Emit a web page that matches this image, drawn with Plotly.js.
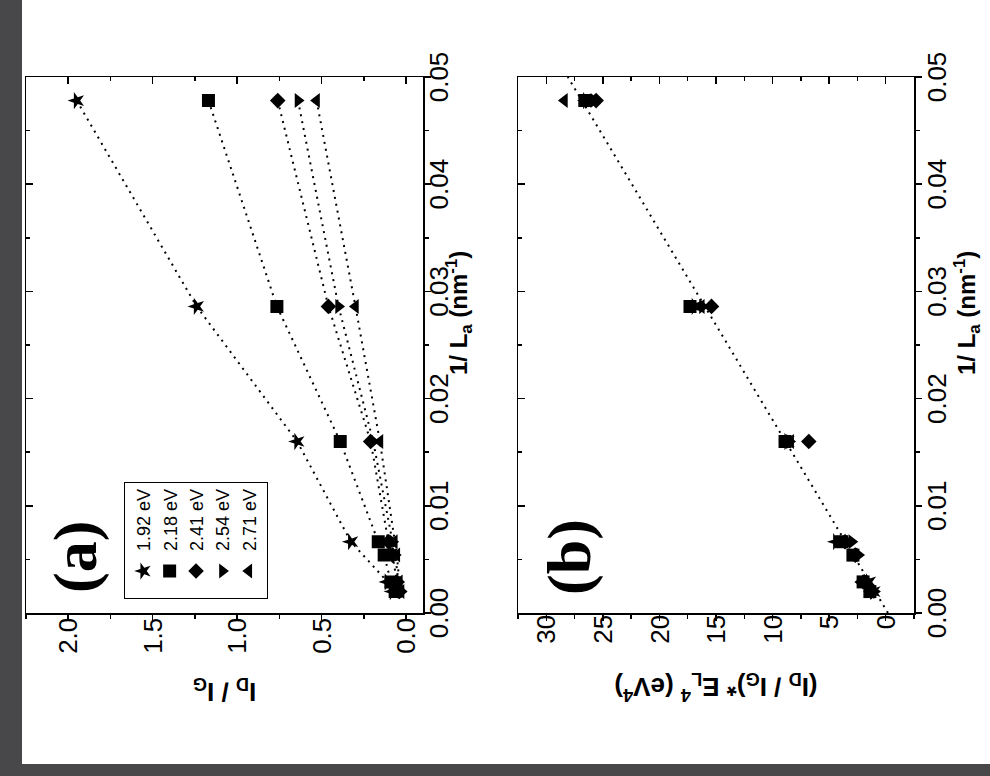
<!DOCTYPE html>
<html>
<head>
<meta charset="utf-8">
<script src="https://cdn.plot.ly/plotly-3.0.1.min.js"></script>
<style>
  html, body { margin:0; padding:0; background:#48484a; width:990px; height:776px; overflow:hidden; }
  #plot { position:absolute; left:0; top:0; width:764px; height:968px;
          transform-origin:0 0; transform:translate(22px,764px) rotate(-90deg); background:#fff; }
</style>
</head>
<body>
<div id="plot"></div>
<script>
// ---- data ----
const seriesNames = ['1.92 eV', '2.18 eV', '2.41 eV', '2.54 eV', '2.71 eV'];
const seriesSymbols = ['star', 'square', 'diamond', 'triangle-down', 'triangle-up'];

// 1/La values (nm^-1)
const invLaStar = [0.0478, 0.0286, 0.0160, 0.00665, 0.0029, 0.0020];
const invLaAll  = [0.0478, 0.0286, 0.0160, 0.00665, 0.0054, 0.0029, 0.0020];

// panel (a): ID/IG
const ratio192 = [1.95, 1.24, 0.645, 0.327, 0.11, 0.08];
const ratio218 = [1.17, 0.765, 0.39, 0.165, 0.13, 0.09, 0.065];
const ratio241 = [0.76, 0.46, 0.21, 0.105, 0.08, 0.055, 0.04];
const ratio254 = [0.64, 0.40, 0.195, 0.08, 0.065, 0.045, 0.03];
const ratio271 = [0.53, 0.30, 0.155, 0.07, 0.055, 0.04, 0.03];

// panel (b): (ID/IG)*EL^4 (eV^4)
const scaled192 = [26.5, 16.9, 8.7, 4.4, 1.5, 1.1];
const scaled218 = [26.6, 17.3, 8.9, 3.9, 2.9, 2.0, 1.4];
const scaled241 = [25.6, 15.4, 6.8, 3.6, 2.7, 1.9, 1.3];
const scaled254 = [25.8, 16.2, 8.5, 3.0, 2.4, 1.8, 1.0];
const scaled271 = [28.4, 16.3, 8.4, 3.8, 2.8, 2.2, 1.3];

// panel (b) linear fit
const fitX = [0, 0.05];
const fitY = [-0.2, 28.1];

// text
const xTitleText = '<b>1/ L<sub>a</sub> (nm<sup>-1</sup>)</b>';
const yTitleA = '<b>I<sub>D</sub> / I<sub>G</sub></b>';
const yTitleB = '<b>(I<sub>D</sub> / I<sub>G</sub>)* E<sub>L</sub><sup>4</sup> (eV<sup>4</sup>)</b>';

// ---- build ----
const xsA = [invLaStar, invLaAll, invLaAll, invLaAll, invLaAll];
const ysA = [ratio192, ratio218, ratio241, ratio254, ratio271];
const ysB = [scaled192, scaled218, scaled241, scaled254, scaled271];

const narrow = '"Liberation Sans Narrow", "Arial Narrow", "Liberation Sans", Arial, sans-serif';
const tickFont = { family: narrow, size: 26, color: '#000' };
const titleFont = { family: narrow, size: 24, color: '#000' };

const dotLine = { color: '#000', width: 2, dash: '2px,5px' };
const traces = [];
for (let i = 0; i < 5; i++) {
  traces.push({ x: xsA[i], y: ysA[i], xaxis: 'x', yaxis: 'y', mode: 'lines', line: dotLine, showlegend: false, hoverinfo: 'skip' });
}
for (let i = 0; i < 5; i++) {
  traces.push({ x: xsA[i], y: ysA[i], xaxis: 'x', yaxis: 'y', mode: 'markers', name: seriesNames[i],
    marker: { symbol: seriesSymbols[i], size: i === 2 ? 12 : 13, color: '#000', line: { width: 0 } } });
}
traces.push({ x: fitX, y: fitY, xaxis: 'x2', yaxis: 'y2', mode: 'lines', line: dotLine, showlegend: false, hoverinfo: 'skip' });
for (let i = 0; i < 5; i++) {
  traces.push({ x: xsA[i], y: ysB[i], xaxis: 'x2', yaxis: 'y2', mode: 'markers', name: seriesNames[i], showlegend: false,
    marker: { symbol: seriesSymbols[i], size: i === 2 ? 12 : 13, color: '#000', line: { width: 0 } } });
}
// empty traces so the mirror (inside-tick) axes are drawn
traces.push({ x: [null], y: [null], xaxis: 'x3', yaxis: 'y', showlegend: false, hoverinfo: 'skip' });
traces.push({ x: [null], y: [null], xaxis: 'x', yaxis: 'y3', showlegend: false, hoverinfo: 'skip' });
traces.push({ x: [null], y: [null], xaxis: 'x4', yaxis: 'y2', showlegend: false, hoverinfo: 'skip' });
traces.push({ x: [null], y: [null], xaxis: 'x2', yaxis: 'y4', showlegend: false, hoverinfo: 'skip' });

const baseAx = { showline: true, linecolor: '#000', linewidth: 1.5, showgrid: false, zeroline: false,
  ticks: 'outside', ticklen: 6, tickwidth: 1.5, tickcolor: '#000', tickfont: tickFont };
const xBase = Object.assign({}, baseAx, { range: [0, 0.05], tick0: 0, dtick: 0.01, tickformat: '.2f',
  minor: { dtick: 0.005, ticks: 'outside', ticklen: 4, tickwidth: 1.5, tickcolor: '#000', showgrid: false } });
const yBaseA = Object.assign({}, baseAx, { range: [-0.1, 2.25], tick0: 0, dtick: 0.5, tickformat: '.1f', ticklabelstandoff: -8,
  minor: { dtick: 0.25, ticks: 'outside', ticklen: 4, tickwidth: 1.5, tickcolor: '#000', showgrid: false } });
const yBaseB = Object.assign({}, baseAx, { range: [-2.5, 32.5], tick0: 0, dtick: 5, ticklabelstandoff: -11,
  minor: { dtick: 2.5, ticks: 'outside', ticklen: 4, tickwidth: 1.5, tickcolor: '#000', showgrid: false } });

function mirrorOf(ax, extra) {
  const m = Object.assign({}, ax, extra, { ticks: 'inside', ticklen: 7, showticklabels: false });
  m.minor = Object.assign({}, ax.minor, { ticks: 'inside', ticklen: 4 });
  return m;
}

const layout = {
  width: 764, height: 968,
  margin: { l: 151, r: 77, t: 4, b: 76 },
  paper_bgcolor: '#fff', plot_bgcolor: '#fff',
  showlegend: true,
  xaxis: Object.assign({}, xBase, { anchor: 'y', domain: [0, 1], ticklabelstandoff: -14 }),
  yaxis: Object.assign({}, yBaseA, { anchor: 'x', domain: [0.5529, 1],
    title: { text: yTitleA, font: Object.assign({}, titleFont, { size: 26 }), standoff: 21 } }),
  xaxis2: Object.assign({}, xBase, { anchor: 'y2', domain: [0, 1], ticklabelstandoff: -7 }),
  yaxis2: Object.assign({}, yBaseB, { anchor: 'x2', domain: [0, 0.4459],
    title: { text: yTitleB, font: Object.assign({}, titleFont, { size: 26 }), standoff: 26 } }),
  xaxis3: mirrorOf(xBase, { overlaying: 'x', anchor: 'y', side: 'top' }),
  yaxis3: mirrorOf(yBaseA, { overlaying: 'y', anchor: 'x', side: 'right' }),
  xaxis4: mirrorOf(xBase, { overlaying: 'x2', anchor: 'y2', side: 'top' }),
  yaxis4: mirrorOf(yBaseB, { overlaying: 'y2', anchor: 'x2', side: 'right' }),
  legend: { x: 0.026, y: 0.8896, xanchor: 'left', yanchor: 'top', bgcolor: '#fff', bordercolor: '#000', borderwidth: 1,
    font: { family: '"Liberation Sans", Arial, sans-serif', size: 18, color: '#000' }, indentation: 7 },
  annotations: [
    { text: xTitleText, xref: 'paper', yref: 'paper', x: 0.56, y: 0.512, xanchor: 'center', yanchor: 'middle', showarrow: false, font: titleFont },
    { text: xTitleText, xref: 'paper', yref: 'paper', x: 0.56, y: -0.060, xanchor: 'center', yanchor: 'middle', showarrow: false, font: titleFont },
    { text: '<b>(a)</b>', xref: 'paper', yref: 'paper', x: 0.104, y: 0.9437, xanchor: 'center', yanchor: 'middle', showarrow: false,
      font: { family: '"Liberation Serif", "Times New Roman", serif', size: 62, color: '#000' } },
    { text: '<b>(b)</b>', xref: 'paper', yref: 'paper', x: 0.104, y: 0.3885, xanchor: 'center', yanchor: 'middle', showarrow: false,
      font: { family: '"Liberation Serif", "Times New Roman", serif', size: 62, color: '#000' } }
  ]
};

Plotly.newPlot('plot', traces, layout, { staticPlot: true, displayModeBar: false });
</script>
</body>
</html>
